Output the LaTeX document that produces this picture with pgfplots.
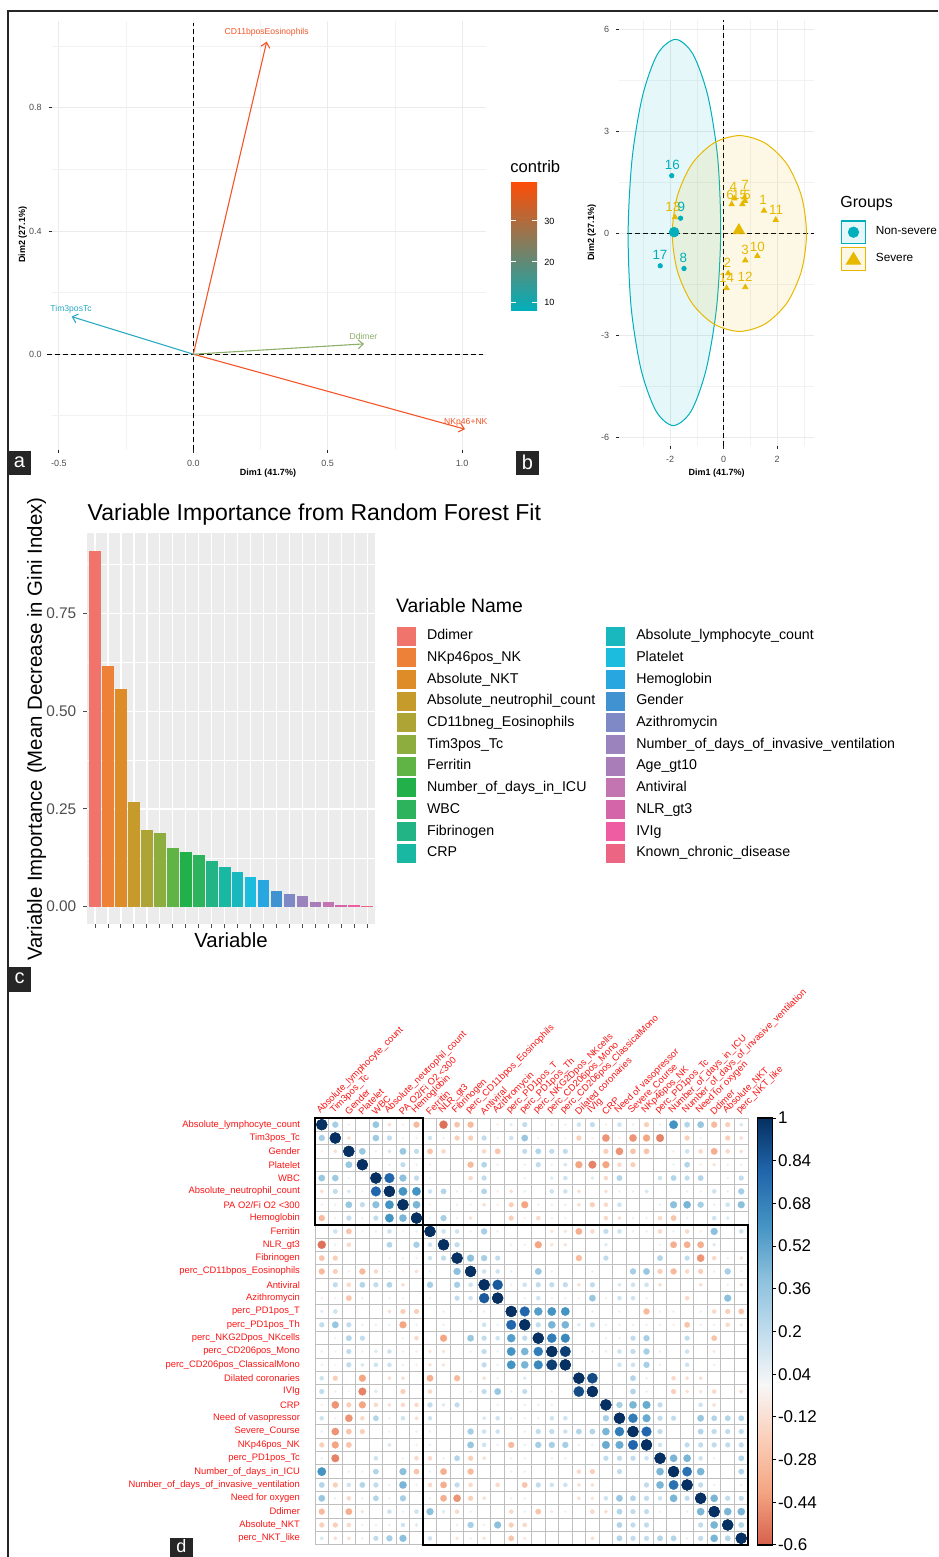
\documentclass[border=0pt]{standalone}
\usepackage{pgfplots}
\pgfplotsset{compat=1.18}
\usepackage{pgfplotstable}
\usepackage{fontspec}
\setmainfont{Liberation Sans}
\usetikzlibrary{arrows.meta}

\definecolor{cteal}{RGB}{0,175,187}
\definecolor{cgold}{RGB}{231,184,0}
\definecolor{ared}{RGB}{243,85,40}
\definecolor{ateal}{RGB}{42,170,195}
\definecolor{agreen}{RGB}{140,174,105}
\definecolor{tickgray}{RGB}{77,77,77}
\definecolor{lblred}{RGB}{250,20,20}
\definecolor{cbtop}{RGB}{252,78,7}
\definecolor{cbmid}{RGB}{231,184,0}
\definecolor{cbbot}{RGB}{0,175,187}
\definecolor{b1}{RGB}{240,116,108}
\definecolor{b2}{RGB}{236,129,55}
\definecolor{b3}{RGB}{221,140,39}
\definecolor{b4}{RGB}{199,154,44}
\definecolor{b5}{RGB}{173,164,53}
\definecolor{b6}{RGB}{141,173,63}
\definecolor{b7}{RGB}{96,180,70}
\definecolor{b8}{RGB}{34,176,75}
\definecolor{b9}{RGB}{44,179,92}
\definecolor{b10}{RGB}{34,180,133}
\definecolor{b11}{RGB}{24,184,162}
\definecolor{b12}{RGB}{25,184,190}
\definecolor{b13}{RGB}{28,188,223}
\definecolor{b14}{RGB}{40,166,224}
\definecolor{b15}{RGB}{64,146,208}
\definecolor{b16}{RGB}{126,137,198}
\definecolor{b17}{RGB}{155,131,190}
\definecolor{b18}{RGB}{168,125,184}
\definecolor{b19}{RGB}{194,117,176}
\definecolor{b20}{RGB}{212,101,168}
\definecolor{b21}{RGB}{238,92,161}
\definecolor{b22}{RGB}{236,101,131}

\newcommand{\fsz}[1]{\fontsize{#1}{#1}\selectfont}
\newcommand{\vbar}[4]{\addplot[ybar, bar width=0.9, bar shift=0pt, fill=#1, draw=none,
  legend image code/.code={\fill[#1] (0pt,-4.75pt) rectangle (9.5pt,4.75pt);}] coordinates {(#2,#3)};
  \addlegendentry{#4}}

\pgfplotstableread{
i j v
1 1 1
1 2 0.3
1 3 -0.05
1 5 0.35
1 6 -0.12
1 7 -0.05
1 8 -0.3
1 10 -0.55
1 11 -0.25
1 12 -0.3
1 14 -0.05
1 15 0.08
1 16 0.2
1 18 0.05
1 19 0.05
1 20 0.15
1 21 0.2
1 22 -0.05
1 23 0.15
1 24 0.05
1 25 -0.2
1 26 0.05
1 27 0.6
1 28 0.25
1 29 0.35
1 30 -0.3
1 31 -0.2
1 32 0.12
2 2 1
2 3 -0.12
2 5 0.33
2 6 0.2
2 7 0.05
2 8 -0.05
2 9 0.15
2 10 0.05
2 11 -0.2
2 12 -0.2
2 13 0.2
2 14 -0.05
2 15 0.15
2 16 0.35
2 17 -0.05
2 18 -0.03
2 19 -0.03
2 20 -0.2
2 21 -0.05
2 22 -0.45
2 23 -0.05
2 24 -0.45
2 25 -0.4
2 26 -0.5
2 28 -0.2
2 29 0.05
2 31 -0.2
2 32 -0.12
3 3 1
3 4 0.35
3 5 0.05
3 6 0.12
3 7 0.35
3 8 0.2
3 9 -0.25
3 10 -0.15
3 12 -0.05
3 13 -0.15
3 14 -0.25
3 16 0.2
3 17 0.25
3 18 0.2
3 19 0.2
3 21 -0.03
3 22 -0.2
3 23 -0.45
3 24 -0.25
3 25 -0.25
3 27 -0.05
3 28 0.15
3 29 -0.15
3 30 -0.35
3 31 -0.15
3 32 -0.12
4 4 1
4 6 0.05
4 7 0.2
4 8 0.05
4 9 -0.05
4 12 -0.3
4 13 0.25
4 14 0.05
4 16 0.05
4 17 0.2
4 18 0.05
4 19 0.12
4 20 -0.4
4 21 -0.5
4 22 -0.4
4 23 -0.15
4 24 -0.2
4 27 0.05
4 28 0.25
4 29 -0.05
4 30 -0.1
4 31 -0.05
4 32 0.05
5 5 1
5 6 0.8
5 7 0.4
5 8 0.2
5 9 0.05
5 12 -0.15
5 13 0.2
5 16 0.05
5 18 0.1
5 19 0.15
5 21 0.1
5 22 -0.15
5 23 0.25
5 26 0.15
5 27 0.25
5 28 0.2
5 29 0.25
5 31 -0.05
5 32 0.2
6 6 1
6 7 0.6
6 8 0.6
6 9 0.15
6 10 0.25
6 11 0.05
6 12 0.05
6 13 0.25
6 14 -0.05
6 15 -0.12
6 16 0.05
6 18 0.15
6 19 0.15
6 20 -0.12
6 22 -0.12
6 23 -0.05
6 24 -0.05
6 25 0.12
6 28 0.05
6 29 0.05
6 30 0.15
6 31 0.05
6 32 0.3
7 7 1
7 8 0.45
7 9 -0.05
7 11 -0.05
7 12 -0.05
7 13 -0.12
7 14 -0.05
7 15 -0.2
7 16 -0.4
7 17 0.05
7 18 0.05
7 19 0.05
7 20 -0.12
7 21 -0.2
7 22 -0.15
7 23 0.15
7 26 0.05
7 27 0.4
7 28 0.45
7 29 0.3
7 30 0.05
7 31 0.15
7 32 0.4
8 8 1
8 9 0.05
8 10 0.3
8 11 -0.05
8 12 -0.12
8 15 -0.2
8 16 -0.05
8 17 -0.15
8 18 -0.05
8 19 -0.05
8 22 -0.15
8 23 -0.12
8 24 -0.05
8 25 -0.05
8 26 -0.15
8 27 -0.25
8 28 0.05
8 30 0.15
8 31 0.1
9 9 1
9 10 0.15
9 11 0.15
9 12 0.05
9 13 0.3
9 14 0.05
9 18 -0.1
9 19 -0.1
9 20 -0.35
9 21 -0.15
9 22 0.2
9 23 0.15
9 24 0.05
9 25 0.05
9 26 -0.15
9 27 0.05
9 28 -0.15
9 29 -0.05
9 30 0.4
9 32 0.15
10 10 1
10 11 0.2
10 15 -0.05
10 16 -0.05
10 17 -0.4
10 18 -0.1
10 19 -0.1
10 22 0.1
10 26 -0.05
10 27 -0.35
10 28 -0.35
10 29 -0.35
10 30 0.1
11 11 1
11 12 0.4
11 13 0.3
11 14 0.2
11 20 -0.3
11 22 0.2
11 26 0.25
11 28 0.2
11 29 -0.45
11 30 -0.15
11 31 -0.05
11 32 -0.1
12 12 1
12 13 0.15
12 14 0.15
12 15 0.05
12 17 0.35
12 18 0.05
12 21 0.05
12 24 0.3
12 25 0.35
12 26 -0.2
12 27 -0.3
12 28 -0.15
12 29 -0.2
12 30 0.05
12 31 0.3
12 32 0.05
13 13 1
13 14 0.85
13 15 0.05
13 16 0.15
13 17 0.2
13 18 0.2
13 19 0.2
13 20 -0.12
13 21 0.2
13 23 0.12
13 24 0.15
13 25 0.15
13 26 -0.12
13 29 -0.12
13 31 -0.05
13 32 -0.1
14 14 1
14 16 0.05
14 17 0.15
14 18 0.05
14 19 0.05
14 20 -0.05
14 21 0.35
14 22 -0.05
14 23 0.15
14 24 0.15
14 25 0.05
14 28 -0.15
14 31 0.4
15 15 1
15 16 0.8
15 17 0.55
15 18 0.6
15 19 0.6
15 21 0.05
15 23 0.05
15 25 -0.3
15 26 -0.05
15 27 -0.05
15 29 -0.05
15 30 -0.15
15 31 -0.2
15 32 -0.25
16 16 1
16 17 0.2
16 18 0.45
16 19 0.45
16 20 0.1
16 21 0.2
16 22 0.05
16 23 0.05
16 24 0.05
16 25 0.05
16 26 -0.05
16 27 -0.05
16 28 -0.25
16 29 0.05
16 30 0.05
16 31 -0.15
16 32 -0.08
17 17 1
17 18 0.7
17 19 0.65
17 22 0.05
17 23 0.05
17 24 0.2
17 25 0.3
17 28 0.2
17 30 -0.25
18 18 1
18 19 0.95
18 21 0.05
18 22 0.05
18 23 0.15
18 24 0.2
18 25 0.3
18 26 0.05
18 28 0.15
18 30 -0.08
19 19 1
19 23 0.15
19 24 0.15
19 25 0.3
19 26 0.05
19 28 0.15
19 30 -0.05
20 20 1
20 21 0.9
20 24 0.25
20 25 0.05
20 27 -0.15
20 28 -0.12
20 29 -0.12
21 21 1
21 24 0.25
21 25 0.05
21 27 -0.2
21 28 -0.12
21 29 -0.1
21 30 -0.15
21 32 -0.12
22 22 1
22 23 0.3
22 24 0.45
22 25 0.5
22 26 0.2
22 29 0.15
22 30 -0.12
23 23 1
23 24 0.7
23 25 0.5
23 26 0.2
23 27 0.2
23 29 0.35
23 30 0.25
23 31 0.25
23 32 0.25
24 24 1
24 25 0.8
24 26 0.2
24 29 0.25
24 30 0.2
24 31 0.2
24 32 0.2
25 25 1
25 26 0.15
25 28 0.2
25 29 0.2
25 30 0.2
25 31 0.2
25 32 0.2
26 26 1
26 27 0.45
26 28 0.45
26 29 0.15
26 30 -0.05
26 32 0.25
27 27 1
27 28 0.75
27 29 0.45
27 32 0.25
28 28 1
28 29 0.2
28 30 0.05
28 32 0.05
29 29 1
29 30 0.45
29 31 0.2
29 32 0.2
30 30 1
30 31 0.45
30 32 0.45
31 31 1
31 32 0.25
32 32 1
}\corrtab

\pgfplotstableread{
x y lx ly lab
-1.94 1.69 -1.92 2.01 16
-1.61 0.44 -1.58 0.78 9
-2.37 -0.96 -2.38 -0.64 17
-1.48 -1.04 -1.51 -0.72 8
}\nonsev

\pgfplotstableread{
x y lx ly lab
1.51 0.66 1.48 0.98 1
0.17 -1.18 0.14 -0.86 2
0.81 -0.80 0.80 -0.49 3
0.40 1.02 0.36 1.35 4
0.80 0.95 0.88 1.12 5
0.30 0.85 0.24 1.13 6
0.78 1.05 0.80 1.42 7
1.26 -0.67 1.26 -0.39 10
1.95 0.39 1.96 0.69 11
0.81 -1.59 0.80 -1.29 12
-1.82 0.47 -1.90 0.78 13
0.11 -1.62 0.11 -1.31 14
0.70 0.85 0.60 1.12 15
}\sev

\begin{document}
\begin{tikzpicture}
\useasboundingbox (0,0) rectangle (469pt,778.5pt);

% ---------------- panel a ----------------
\begin{axis}[at={(25.85pt,553.5pt)}, anchor=south west, scale only axis,
  width=217.15pt, height=214.65pt,
  xmin=-0.527, xmax=1.089, ymin=-0.311, ymax=1.083,
  axis line style={draw=none}, tick pos=left,
  xtick={-0.5,0,0.5,1}, xticklabels={-0.5,0.0,0.5,1.0},
  ytick={0,0.4,0.8}, yticklabels={0.0,0.4,0.8},
  minor xtick={-0.25,0.25,0.75}, minor ytick={-0.2,0.2,0.6,1.0},
  grid=both, major grid style={gray!16, line width=0.5pt},
  minor grid style={gray!10, line width=0.3pt},
  tick align=outside, major tick length=1.5pt, minor tick length=0pt,
  tick style={black!85, line width=0.5pt},
  ticklabel style={font=\fsz{4.5}, text=tickgray},
  clip=false]
\addplot[black, line width=0.5pt, dash pattern=on 2.5pt off 1.5pt] coordinates {(0,-0.311) (0,1.075)};
\addplot[black, line width=0.5pt, dash pattern=on 2.5pt off 1.5pt] coordinates {(-0.546,0) (1.078,0)};
\addplot[ared, line width=0.55pt, -{Straight Barb[length=2.5pt,width=4.5pt]}] coordinates {(0,0) (0.273,1.015)};
\addplot[ared, line width=0.55pt, -{Straight Barb[length=2.5pt,width=4.5pt]}] coordinates {(0,0) (1.011,-0.2435)};
\addplot[ateal, line width=0.55pt, -{Straight Barb[length=2.5pt,width=4.5pt]}] coordinates {(0,0) (-0.453,0.122)};
\addplot[agreen, line width=0.55pt, -{Straight Barb[length=2.5pt,width=4.5pt]}] coordinates {(0,0) (0.635,0.0335)};
\node[text=ared, font=\fsz{4.3}] at (axis cs:0.273,1.046) {CD11bposEosinophils};
\node[text=ared, font=\fsz{4.3}] at (axis cs:1.014,-0.222) {NKp46+NK};
\node[text=ateal, font=\fsz{4.3}] at (axis cs:-0.455,0.147) {Tim3posTc};
\node[text=agreen, font=\fsz{4.3}] at (axis cs:0.633,0.057) {Ddimer};
\end{axis}

% ---------------- panel b ----------------
\begin{axis}[at={(309.65pt,555.5pt)}, anchor=south west, scale only axis,
  width=97.35pt, height=213pt,
  xmin=-3.90, xmax=3.38, ymin=-6.26, ymax=6.27,
  axis line style={draw=none}, tick pos=left,
  xtick={-2,0,2}, xticklabels={-2,0,2},
  ytick={-6,-3,0,3,6}, yticklabels={-6,-3,0,3,6},
  minor xtick={-3,-1,1,3}, minor ytick={-4.5,-1.5,1.5,4.5},
  grid=both, major grid style={gray!16, line width=0.5pt},
  minor grid style={gray!10, line width=0.3pt},
  tick align=outside, major tick length=1.5pt, minor tick length=0pt,
  tick style={black!85, line width=0.5pt},
  ticklabel style={font=\fsz{4.5}, text=tickgray},
  clip=false,
  legend style={at={(1.137,0.5305)}, anchor=north west, draw=none, fill=none,
    inner sep=0pt, row sep=1.6pt, column sep=4.5pt, font=\fsz{5.9},
    nodes={inner sep=0.5pt}},
  legend cell align=left]
\addplot[forget plot, black, line width=0.5pt, dash pattern=on 2.5pt off 1.5pt] coordinates {(0,-6.26) (0,6.27)};
\addplot[forget plot, black, line width=0.5pt, dash pattern=on 2.5pt off 1.5pt] coordinates {(-3.62,0) (3.38,0)};
\addplot[forget plot, cteal, line width=0.5pt, fill=cteal, fill opacity=0.1, smooth cycle] coordinates {
(-0.11,0.02) (-0.22,2.20) (-0.59,4.04) (-1.15,5.27) (-1.80,5.70) (-2.47,5.27) (-3.03,4.04) (-3.42,2.20)
(-3.57,0.02) (-3.46,-2.16) (-3.09,-4.00) (-2.53,-5.23) (-1.88,-5.66) (-1.21,-5.23) (-0.65,-4.00) (-0.26,-2.16)};
\addplot[forget plot, cgold, line width=0.5pt, fill=cgold, fill opacity=0.1, smooth cycle] coordinates {
(3.10,-0.01) (2.91,1.09) (2.37,2.03) (1.55,2.65) (0.59,2.87) (-0.37,2.65) (-1.19,2.03) (-1.73,1.09)
(-1.92,-0.01) (-1.73,-1.11) (-1.19,-2.05) (-0.37,-2.67) (0.59,-2.89) (1.55,-2.67) (2.37,-2.05) (2.91,-1.11)};
\addplot[forget plot, only marks, mark=*, mark size=1.1pt, cteal] table[x=x,y=y] \nonsev;
\addplot[forget plot, only marks, mark=triangle*, mark size=1.5pt, cgold] table[x=x,y=y] \sev;
\addplot[forget plot, only marks, mark=*, mark size=2.4pt, cteal] coordinates {(-1.85,0.03)};
\addplot[forget plot, only marks, mark=triangle*, mark size=3.3pt, cgold] coordinates {(0.57,0.08)};
\addplot[forget plot, only marks, mark=none, nodes near coords, point meta=explicit symbolic,
  nodes near coords align={center},
  every node near coord/.append style={font=\fsz{6.7}, text=cgold, inner sep=0pt}]
  table[x=lx,y=ly,meta=lab] \sev;
\addplot[forget plot, only marks, mark=none, nodes near coords, point meta=explicit symbolic,
  nodes near coords align={center},
  every node near coord/.append style={font=\fsz{6.7}, text=cteal, inner sep=0pt}]
  table[x=lx,y=ly,meta=lab] \nonsev;
\addlegendimage{legend image code/.code={\draw[draw=cteal, fill=cteal!10, line width=0.6pt] (0pt,-5.6pt) rectangle (11.8pt,5.6pt); \fill[cteal] (5.9pt,0pt) circle (2.6pt);}}
\addlegendentry{Non-severe}
\addlegendimage{legend image code/.code={\draw[draw=cgold, fill=cgold!10, line width=0.6pt] (0pt,-5.6pt) rectangle (11.8pt,5.6pt); \fill[cgold] (5.9pt,3.3pt) -- (2.3pt,-2.6pt) -- (9.5pt,-2.6pt) -- cycle;}}
\addlegendentry{Severe}
\end{axis}

% ---------------- panel c ----------------
\begin{axis}[at={(43.65pt,316.35pt)}, anchor=south west, scale only axis,
  width=143.85pt, height=195.5pt,
  xmin=0.4, xmax=22.6, ymin=-0.045, ymax=0.955,
  axis background/.style={fill=gray!15},
  axis line style={draw=none}, tick pos=left,
  xtick={1,...,22}, xticklabels={},
  ytick={0,0.25,0.5,0.75}, yticklabels={0.00,0.25,0.50,0.75},
  minor ytick={0.125,0.375,0.625,0.875},
  grid=both, major grid style={white, line width=0.6pt},
  minor grid style={white, line width=0.3pt},
  tick align=outside, major tick length=2pt, minor tick length=0pt,
  tick style={black!70, line width=0.5pt},
  ticklabel style={font=\fsz{7.7}, text=tickgray},
  legend columns=11, transpose legend,
  legend style={at={(1.0754,0.7624)}, anchor=north west, draw=none, fill=none,
    inner sep=0pt, row sep=1.35pt, column sep=5pt, font=\fsz{7.1},
    nodes={inner sep=0.5pt, text height=5.2pt, text depth=1.5pt}},
  legend cell align=left]
\vbar{b1}{1}{0.910}{Ddimer}
\vbar{b2}{2}{0.616}{NKp46pos\_NK}
\vbar{b3}{3}{0.557}{Absolute\_NKT}
\vbar{b4}{4}{0.269}{Absolute\_neutrophil\_count}
\vbar{b5}{5}{0.197}{CD11bneg\_Eosinophils}
\vbar{b6}{6}{0.188}{Tim3pos\_Tc}
\vbar{b7}{7}{0.151}{Ferritin}
\vbar{b8}{8}{0.140}{Number\_of\_days\_in\_ICU}
\vbar{b9}{9}{0.132}{WBC}
\vbar{b10}{10}{0.118}{Fibrinogen}
\vbar{b11}{11}{0.102}{CRP}
\vbar{b12}{12}{0.088}{Absolute\_lymphocyte\_count}
\vbar{b13}{13}{0.077}{Platelet}
\vbar{b14}{14}{0.068}{Hemoglobin}
\vbar{b15}{15}{0.040}{Gender}
\vbar{b16}{16}{0.032}{Azithromycin}
\vbar{b17}{17}{0.027}{Number\_of\_days\_of\_invasive\_ventilation}
\vbar{b18}{18}{0.013}{Age\_gt10}
\vbar{b19}{19}{0.011}{Antiviral}
\vbar{b20}{20}{0.0045}{NLR\_gt3}
\vbar{b21}{21}{0.004}{IVIg}
\vbar{b22}{22}{0.003}{Known\_chronic\_disease}
\end{axis}

% ---------------- panel d ----------------
\begin{axis}[at={(157.5pt,6pt)}, anchor=south west, scale only axis,
  width=216.5pt, height=213.5pt,
  xmin=0.5, xmax=32.5, ymin=0.5, ymax=32.5,
  axis line style={gray!50, line width=0.5pt},
  xtick={1,...,32}, ytick={1,...,32},
  xticklabel pos=upper,
  xticklabels={Absolute\_lymphocyte\_count,Tim3pos\_Tc,Gender,Platelet,WBC,Absolute\_neutrophil\_count,PA O2/Fi O2 <300,Hemoglobin,Ferritin,NLR\_gt3,Fibrinogen,perc\_CD11bpos\_Eosinophils,Antiviral,Azithromycin,perc\_PD1pos\_T,perc\_PD1pos\_Th,perc\_NKG2Dpos\_NKcells,perc\_CD206pos\_Mono,perc\_CD206pos\_ClassicalMono,Dilated coronaries,IVIg,CRP,Need of vasopressor,Severe\_Course,NKp46pos\_NK,perc\_PD1pos\_Tc,Number\_of\_days\_in\_ICU,Number\_of\_days\_of\_invasive\_ventilation,Need for oxygen,Ddimer,Absolute\_NKT,perc\_NKT\_like},
  yticklabels={perc\_NKT\_like,Absolute\_NKT,Ddimer,Need for oxygen,Number\_of\_days\_of\_invasive\_ventilation,Number\_of\_days\_in\_ICU,perc\_PD1pos\_Tc,NKp46pos\_NK,Severe\_Course,Need of vasopressor,CRP,IVIg,Dilated coronaries,perc\_CD206pos\_ClassicalMono,perc\_CD206pos\_Mono,perc\_NKG2Dpos\_NKcells,perc\_PD1pos\_Th,perc\_PD1pos\_T,Azithromycin,Antiviral,perc\_CD11bpos\_Eosinophils,Fibrinogen,NLR\_gt3,Ferritin,Hemoglobin,PA O2/Fi O2 <300,Absolute\_neutrophil\_count,WBC,Platelet,Gender,Tim3pos\_Tc,Absolute\_lymphocyte\_count},
  major tick length=0pt,
  minor xtick={1.5,2.5,...,31.5}, minor ytick={1.5,2.5,...,31.5},
  minor tick length=0pt,
  xminorgrids=true, yminorgrids=true,
  minor grid style={gray!50, line width=0.5pt},
  xticklabel style={rotate=45, anchor=south west, font=\fsz{4.7}, text=lblred, inner sep=0.8pt},
  yticklabel style={font=\fsz{4.7}, text=lblred, xshift=-4pt},
  colormap={corr}{rgb255(0cm)=(214,96,77) rgb255(2cm)=(244,165,130) rgb255(4cm)=(250,207,186) rgb255(6cm)=(247,247,247) rgb255(8cm)=(192,220,237) rgb255(10cm)=(140,192,220) rgb255(12cm)=(67,147,195) rgb255(14cm)=(33,102,172) rgb255(16cm)=(5,48,97)},
  point meta min=-0.6, point meta max=1,
  colorbar,
  colorbar style={width=7.5pt, at={(parent axis.north east)}, anchor=north west, xshift=-3.8pt,
    ytick={-0.6,-0.44,-0.28,-0.12,0.04,0.2,0.36,0.52,0.68,0.84,1},
    yticklabels={-0.6,-0.44,-0.28,-0.12,0.04,0.2,0.36,0.52,0.68,0.84,1},
    minor ytick={}, yminorgrids=false, ymajorgrids=false,
    yticklabel style={font=\fsz{8.5}, text=black, inner sep=0.6pt, xshift=0pt, rotate=0, anchor=west},
    major tick length=2pt, tick align=outside, ytick pos=right,
    tick style={black, line width=0.5pt},
    axis line style={black, line width=0.6pt}},
  clip=false]
\addplot[scatter, only marks, mark=*, point meta=\thisrow{v},
  scatter/use mapped color={draw=mapped color, fill=mapped color},
  mark options={line width=0.1pt},
  visualization depends on={2.75*sqrt(abs(\thisrow{v})) \as \rad},
  scatter/@pre marker code/.append style={/tikz/mark size=\rad}]
  table[x=j, y expr=33-\thisrow{i}] \corrtab;
\addplot[scatter, only marks, mark=*, point meta=\thisrow{v},
  scatter/use mapped color={draw=mapped color, fill=mapped color},
  mark options={line width=0.1pt},
  visualization depends on={2.75*sqrt(abs(\thisrow{v})) \as \rad},
  scatter/@pre marker code/.append style={/tikz/mark size=\rad}]
  table[x=i, y expr=33-\thisrow{j}] \corrtab;
\draw[black, line width=1pt] (axis cs:0.5,24.5) rectangle (axis cs:8.5,32.5);
\draw[black, line width=1pt] (axis cs:8.5,0.5) rectangle (axis cs:32.5,24.5);
\end{axis}

% ---------------- annotations (pixel coordinates) ----------------
\begin{scope}[x=0.5pt, y=-0.5pt, yshift=778.5pt]
\draw[black!85, line width=0.8pt] (8,1557) -- (8,11) -- (938,11);
% panel a
\node[font=\bfseries\fsz{4.5}] at (268,473) {Dim1 (41.7\%)};
\node[font=\bfseries\fsz{4.5}, rotate=90] at (22.7,235) {Dim2 (27.1\%)};
\node[anchor=west, font=\fsz{8.3}, inner sep=0pt] at (510,167) {contrib};
\shade[top color=cbtop, middle color=cbmid, bottom color=cbbot] (511,182.7) rectangle (537,311);
\foreach \yy in {221,262,302.7} {
  \draw[white, line width=0.5pt] (511,\yy) -- (516,\yy);
  \draw[white, line width=0.5pt] (532,\yy) -- (537,\yy);
}
\node[anchor=west, font=\fsz{4.5}, inner sep=0pt] at (544,221) {30};
\node[anchor=west, font=\fsz{4.5}, inner sep=0pt] at (544,262) {20};
\node[anchor=west, font=\fsz{4.5}, inner sep=0pt] at (544,302.7) {10};
% panel b
\node[font=\bfseries\fsz{4.5}] at (716.7,473) {Dim1 (41.7\%)};
\node[font=\bfseries\fsz{4.5}, rotate=90] at (591.7,233) {Dim2 (27.1\%)};
\node[anchor=west, font=\fsz{8}, inner sep=0pt] at (840,203.3) {Groups};
% panel c
\node[anchor=west, font=\fsz{11.5}, inner sep=0pt] at (87.3,515) {Variable Importance from Random Forest Fit};
\node[font=\fsz{10.2}, inner sep=0pt] at (231,940.7) {Variable};
\node[font=\fsz{10.2}, inner sep=0pt, rotate=90] at (36.7,729) {Variable Importance (Mean Decrease in Gini Index)};
\node[anchor=west, font=\fsz{9.7}, inner sep=0pt] at (395.7,605.7) {Variable Name};
% panel letters
\fill[black!85] (8,451) rectangle (31,475);
\node[white, font=\fsz{10}] at (19.5,462) {a};
\fill[black!85] (516,451) rectangle (539,475);
\node[white, font=\fsz{10}] at (527.5,462) {b};
\fill[black!85] (8,967) rectangle (31,992);
\node[white, font=\fsz{10}] at (19.5,978.5) {c};
\fill[black!85] (170,1538) rectangle (193,1557);
\node[white, font=\fsz{9}, inner sep=0pt] at (181.5,1546) {d};
\end{scope}
\end{tikzpicture}
\end{document}
